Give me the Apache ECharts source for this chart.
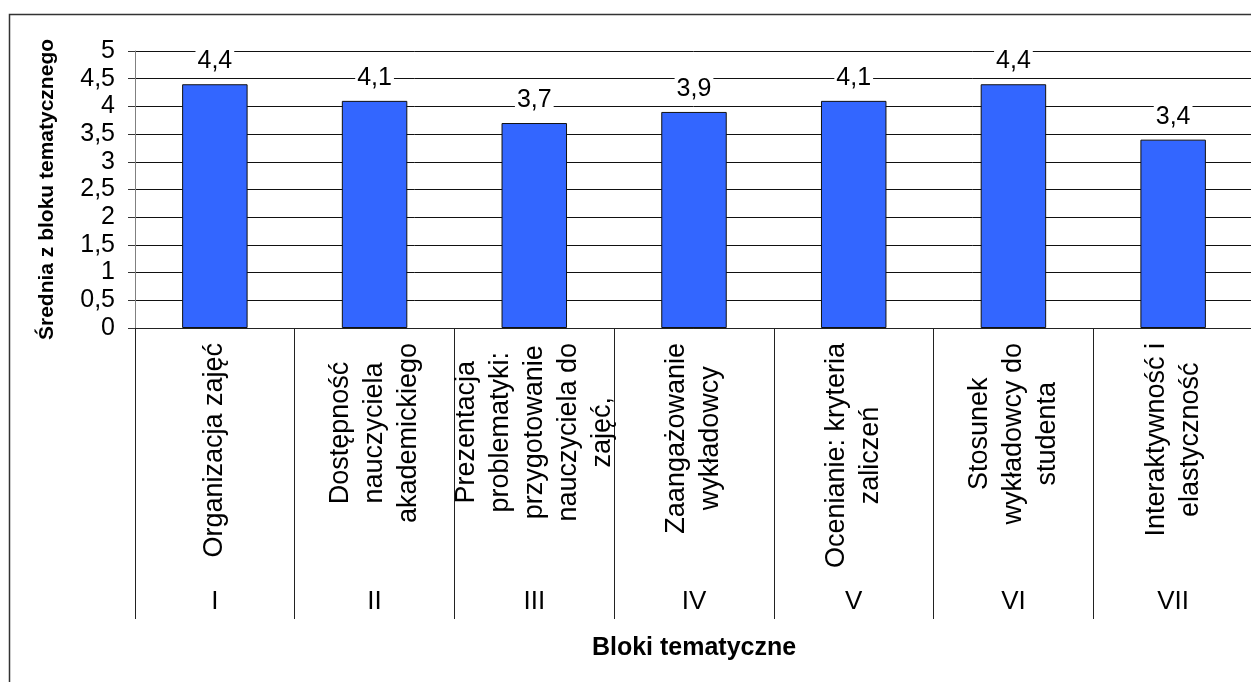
<!DOCTYPE html>
<html>
<head>
<meta charset="utf-8">
<script src="https://cdn.jsdelivr.net/npm/echarts@6/dist/echarts.min.js"></script>
<style>
html,body{margin:0;padding:0;background:#fff;}
#chart{width:1251px;height:682px;}
</style>
</head>
<body>
<div id="chart"></div>
<script>
const categories = [
  "Organizacja zajęć",
  "Dostępność\nnauczyciela\nakademickiego",
  "Prezentacja\nproblematyki:\nprzygotowanie\nnauczyciela do\nzajęć,",
  "Zaangażowanie\nwykładowcy",
  "Ocenianie: kryteria\nzaliczeń",
  "Stosunek\nwykładowcy do\nstudenta",
  "Interaktywność i\nelastyczność"
];
const blockNumbers = ["I", "II", "III", "IV", "V", "VI", "VII"];
const values = [4.4, 4.1, 3.7, 3.9, 4.1, 4.4, 3.4];
const yTicks = { min: 0, max: 5, interval: 0.5 };
const yTitle = "Średnia z bloku tematycznego";
const xTitle = "Bloki tematyczne";

const FONT = "Liberation Sans, Arial, sans-serif";
const CAT_FONT_SIZE = 27;
const chart = echarts.init(document.getElementById('chart'), null, { renderer: 'canvas' });
const comma = v => String(v).replace('.', ',');

// Category labels: lines centred, block anchored so the longest line starts near the axis
const ctx = document.createElement('canvas').getContext('2d');
ctx.font = CAT_FONT_SIZE + 'px ' + FONT;
const BASE_MARGIN = 112;   // distance of block centre from axis
const TOP_GAP = 15;        // distance from axis to start of longest line
const categoryItems = categories.map(txt => {
  const w = Math.max(...txt.split('\n').map(l => ctx.measureText(l).width));
  const shift = (TOP_GAP + w / 2) - BASE_MARGIN; // + means further from axis
  const pad = Math.abs(shift) * 2;
  const padding = shift >= 0 ? [0, pad, 0, 0] : [0, 0, 0, pad];
  return { value: txt, textStyle: { padding: padding, align: 'center', verticalAlign: 'middle' } };
});

chart.setOption({
  animation: false,
  backgroundColor: '#fff',
  textStyle: { fontFamily: FONT, color: '#000' },
  graphic: [{
    type: 'rect', silent: true, z: -1,
    shape: { x: 9.5, y: 14.5, width: 1300, height: 700 },
    style: { fill: 'none', stroke: '#333', lineWidth: 1.5 }
  }],
  grid: { left: 135, top: 51, width: 1118, height: 277, containLabel: false, outerBoundsMode: 'none' },
  yAxis: {
    type: 'value',
    min: yTicks.min, max: yTicks.max, interval: yTicks.interval,
    name: yTitle,
    nameLocation: 'middle',
    nameRotate: 90,
    nameGap: 88,
    nameTextStyle: { fontFamily: FONT, fontWeight: 'bold', fontSize: 21, color: '#000', verticalAlign: 'middle' },
    axisLine: { show: true, lineStyle: { color: '#808080', width: 1 } },
    axisTick: { show: true, length: 7, lineStyle: { color: '#333' } },
    axisLabel: { fontFamily: FONT, fontSize: 25, color: '#000', margin: 20, formatter: comma },
    splitLine: { show: true, lineStyle: { color: '#111', width: 1 } }
  },
  xAxis: [{
    type: 'category',
    data: categoryItems,
    position: 'bottom',
    axisLine: { show: true, lineStyle: { color: '#222', width: 1 } },
    axisTick: { show: true, length: 291, interval: 0, alignWithLabel: false, lineStyle: { color: '#222', width: 1 } },
    axisLabel: {
      interval: 0, rotate: 90, align: 'center', verticalAlign: 'middle',
      margin: BASE_MARGIN, fontFamily: FONT, fontSize: CAT_FONT_SIZE, lineHeight: 34, color: '#000'
    },
    splitLine: { show: false }
  }, {
    type: 'category',
    data: blockNumbers,
    position: 'bottom',
    offset: 0,
    name: xTitle,
    nameLocation: 'middle',
    nameGap: 320,
    nameTextStyle: { fontFamily: FONT, fontWeight: 'bold', fontSize: 25, color: '#000', verticalAlign: 'middle' },
    axisLine: { show: false },
    axisTick: { show: false },
    axisLabel: { interval: 0, margin: 274, verticalAlign: 'middle', fontFamily: FONT, fontSize: 26, color: '#000' },
    splitLine: { show: false }
  }],
  series: [{
    type: 'bar',
    xAxisIndex: 0,
    data: values,
    barWidth: '41%',
    itemStyle: { color: '#3366FF', borderColor: '#111', borderWidth: 1 },
    label: {
      show: true, position: 'top', distance: 11,
      fontFamily: FONT, fontSize: 25, lineHeight: 24, color: '#000',
      backgroundColor: '#fff', padding: [0, 2],
      formatter: p => comma(p.value)
    }
  }]
});
</script>
</body>
</html>
